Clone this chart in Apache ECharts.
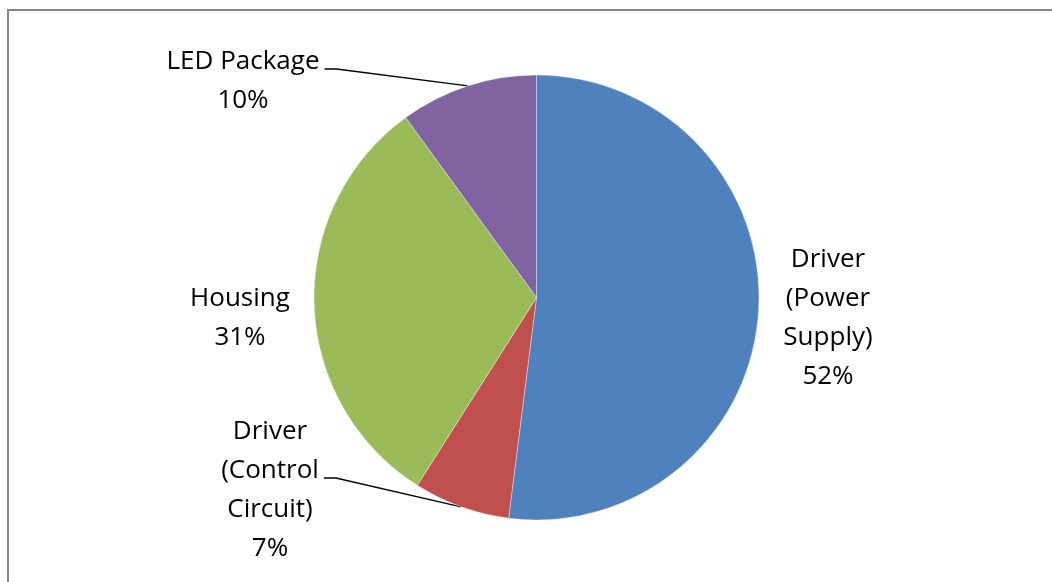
<!DOCTYPE html>
<html>
<head>
<meta charset="utf-8">
<script src="https://cdn.jsdelivr.net/npm/echarts@6/dist/echarts.min.js"></script>
<style>
html,body{margin:0;padding:0;background:#fff;}
#chart{width:1052px;height:582px;}
</style>
</head>
<body>
<div id="chart"></div>
<script>
// ---- data ----
var categories = ['Driver (Power Supply)', 'Driver (Control Circuit)', 'Housing', 'LED Package'];
var labelTexts = ['Driver\n(Power\nSupply)', 'Driver\n(Control\nCircuit)', 'Housing', 'LED Package'];
var values = [52, 7, 31, 10];
var colors = ['#4F81BD', '#C0504D', '#9BBB59', '#8064A2'];
var showLines = [false, true, false, true];

// ---- layout (label anchor centres, px) ----
var labelPos = [
  {x: 828, y: 318},
  {x: 270, y: 490},
  {x: 240, y: 318},
  {x: 243, y: 81}
];

var chart = echarts.init(document.getElementById('chart'), null, {renderer: 'canvas'});

var data = categories.map(function (c, i) {
  return {
    name: c,
    value: values[i],
    itemStyle: {color: colors[i]},
    labelLine: {show: showLines[i]}
  };
});

chart.setOption({
  animation: false,
  backgroundColor: '#ffffff',
  graphic: [{
    type: 'rect',
    shape: {x: 8, y: 10, width: 1100, height: 620},
    style: {fill: 'none', stroke: '#868686', lineWidth: 2},
    silent: true,
    z: 0
  }],
  series: [{
    type: 'pie',
    center: [536.5, 297.5],
    radius: [0, 222.5],
    startAngle: 90,
    clockwise: true,
    avoidLabelOverlap: false,
    itemStyle: {borderColor: 'rgba(255,255,255,0.6)', borderWidth: 0.6},
    label: {
      show: true,
      position: 'outside',
      color: '#000',
      fontFamily: '"Open Sans", "Liberation Sans", sans-serif',
      fontSize: 26,
      lineHeight: 39,
      align: 'center',
      formatter: function (p) {
        return labelTexts[p.dataIndex] + '\n' + p.value + '%';
      }
    },
    labelLine: {
      lineStyle: {color: '#000', width: 1.3}
    },
    labelLayout: function (params) {
      var i = params.dataIndex;
      var pos = labelPos[i];
      var out = {x: pos.x, y: pos.y, align: 'center', verticalAlign: 'middle'};
      if (showLines[i] && params.labelLinePoints) {
        var edge = params.labelLinePoints[0];
        var w = params.labelRect.width;
        var lineY = (i === 3) ? 69 : 478;
        var endX = pos.x + w / 2 + 5;
        out.labelLinePoints = [edge, [endX + 12, lineY], [endX, lineY]];
      }
      return out;
    },
    data: data
  }]
});
</script>
</body>
</html>
